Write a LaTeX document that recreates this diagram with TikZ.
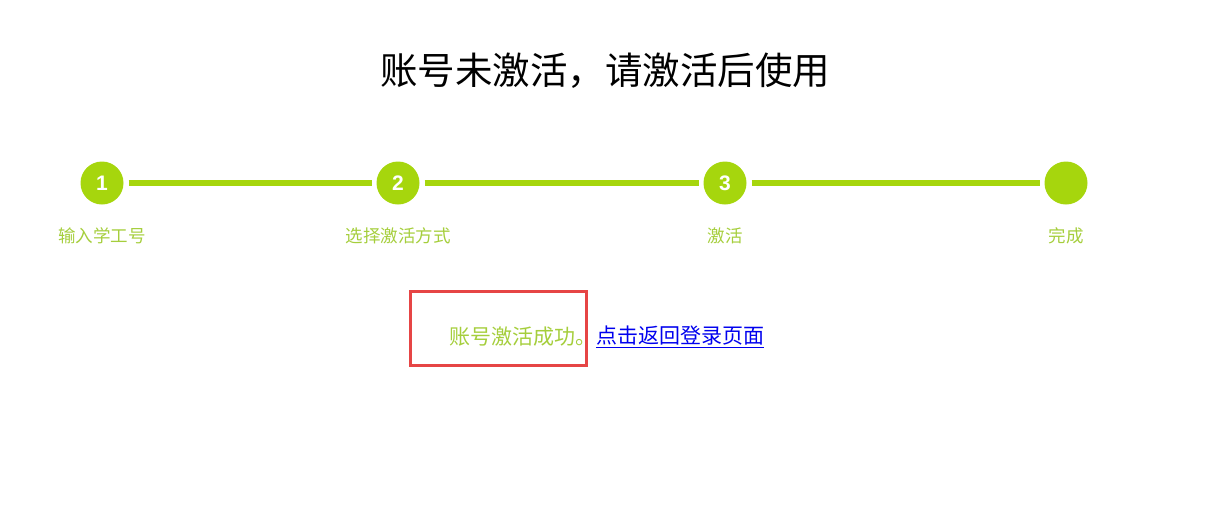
\documentclass[tikz,border=0pt]{standalone}
\usepackage{fontspec}
\setmainfont{Noto Sans CJK SC}
\newfontfamily\numfont{Liberation Sans}
\usetikzlibrary{positioning}
\definecolor{stepgreen}{HTML}{A6D60D}
\definecolor{labelgreen}{HTML}{A5CE3C}
\definecolor{boxred}{HTML}{E64545}
\definecolor{linkblue}{HTML}{0000EE}

\begin{document}
\begin{tikzpicture}[x=1pt, y=-1pt,
		stepdot/.style={circle, fill=stepgreen, minimum size=43pt, inner sep=0pt, outer sep=5pt, text=white, font=\numfont\bfseries\fontsize{21}{21}\selectfont},
		steplabel/.style={text=labelgreen, inner sep=0pt, font=\fontsize{17.5}{17.5}\selectfont},
		stepline/.style={draw=stepgreen, line width=6pt},
		node distance=18pt]
		\useasboundingbox (0,0) rectangle (1216,517);
		
		\node[font=\fontsize{37.5}{37.5}\selectfont] (title) at (605,71) {账号未激活，请激活后使用};
		
		\node[stepdot] (s1) at (102,183) {1};
		\node[stepdot] (s2) at (398,183) {2};
		\node[stepdot] (s3) at (725,183) {3};
		\node[stepdot] (s4) at (1066,183) {};
		
		\node[steplabel, below=of s1] (l1) {输入学工号};
		\node[steplabel, below=of s2] (l2) {选择激活方式};
		\node[steplabel, below=of s3] (l3) {激活};
		\node[steplabel, below=of s4] (l4) {完成};
		
		\draw[stepline] (s1) -- (s2);
		\draw[stepline] (s2) -- (s3);
		\draw[stepline] (s3) -- (s4);
		
		\node[draw=boxred, line width=2.5pt, minimum width=176pt, minimum height=74pt] (box) at (498.5,328.5) {};
		\node[text=labelgreen, anchor=west, inner sep=0pt, font=\fontsize{21}{21}\selectfont] (done) at (449,337) {账号激活成功。};
		\node[text=linkblue, anchor=west, inner sep=0pt, font=\fontsize{21}{21}\selectfont] (link) at (596,337) {\underline{点击返回登录页面}};
	\end{tikzpicture}
\end{document}
